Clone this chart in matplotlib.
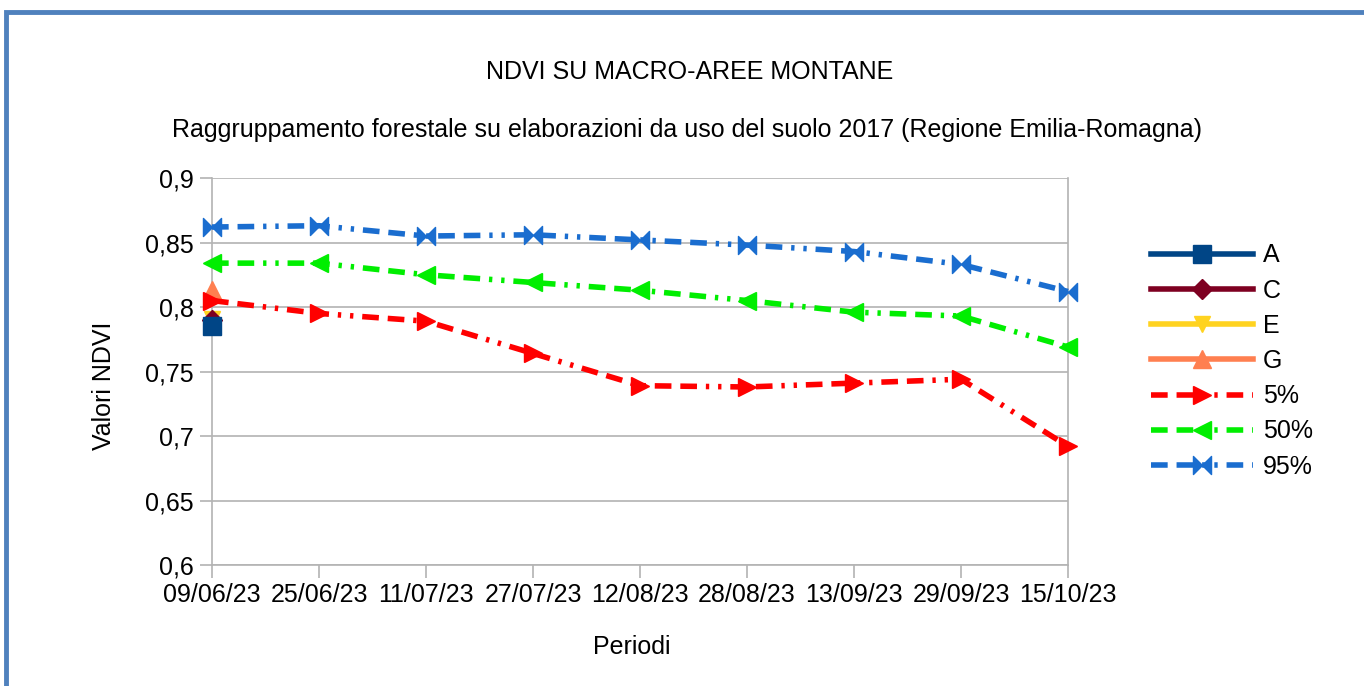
import numpy as np
import matplotlib
matplotlib.use("Agg")
import matplotlib.pyplot as plt
from matplotlib.path import Path
from matplotlib.patches import Rectangle

plt.rcParams["font.family"] = ["Liberation Sans", "DejaVu Sans"]

periods = ["09/06/23", "25/06/23", "11/07/23", "27/07/23", "12/08/23",
           "28/08/23", "13/09/23", "29/09/23", "15/10/23"]

# only the first date has values for the macro-areas
area_a = [0.785]
area_c = [0.790]
area_e = [0.791]
area_g = [0.813]

p5 = [0.805, 0.795, 0.789, 0.764, 0.739, 0.738, 0.741, 0.744, 0.692]
p50 = [0.834, 0.834, 0.825, 0.819, 0.813, 0.805, 0.796, 0.793, 0.769]
p95 = [0.862, 0.863, 0.855, 0.856, 0.852, 0.848, 0.843, 0.833, 0.812]

y_ticks = [0.6, 0.65, 0.7, 0.75, 0.8, 0.85, 0.9]
y_labels = ["0,6", "0,65", "0,7", "0,75", "0,8", "0,85", "0,9"]

# bow-tie marker for the 95% series
bowtie = Path([(-1, -1), (-1, 1), (0, 0), (1, 1), (1, -1), (0, 0), (-1, -1)],
              [Path.MOVETO, Path.LINETO, Path.LINETO, Path.LINETO,
               Path.LINETO, Path.LINETO, Path.CLOSEPOLY])

dash_dot_dot = (0, (3, 1.6, 3, 1.6, 0.6, 1.6, 0.6, 1.6))

fig = plt.figure(figsize=(13.64, 6.86), dpi=100)
ax = fig.add_axes([212 / 1364, 1 - 565 / 686, (1068 - 212) / 1364, (565 - 178) / 686])

x = np.arange(len(periods))
lw = 4.0
fs = 18
kw = dict(lw=lw, clip_on=False)
ax.plot(x[:1], area_e, color="#ffd320", marker="v", ms=12, label="E", zorder=3, **kw)
ax.plot(x[:1], area_c, color="#7e0021", marker="D", ms=10, label="C", zorder=4, **kw)
ax.plot(x[:1], area_a, color="#004586", marker="s", ms=13, label="A", zorder=5, **kw)
ax.plot(x[:1], area_g, color="#ff7f50", marker="^", ms=13, label="G", zorder=4, **kw)
ax.plot(x, p5, color="#ff0000", ls=dash_dot_dot, marker=">", ms=13, label="5%", zorder=6, **kw)
ax.plot(x, p50, color="#00ee00", ls=dash_dot_dot, marker="<", ms=13, label="50%", zorder=6, **kw)
ax.plot(x, p95, color="#1a6dcf", ls=dash_dot_dot, marker=bowtie, ms=13, label="95%", zorder=6, **kw)

ax.set_xlim(0, len(periods) - 1)
ax.set_ylim(0.6, 0.9)
ax.set_xticks(x)
ax.set_xticklabels(periods)
ax.set_yticks(y_ticks)
ax.set_yticklabels(y_labels)
ax.tick_params(labelsize=fs, colors="#b3b3b3", labelcolor="black", length=9, width=1.2, pad=4)
ax.grid(axis="y", color="#b3b3b3", lw=1.2)
ax.set_axisbelow(True)
ax.spines["top"].set_visible(False)
for side in ["left", "bottom", "right"]:
    ax.spines[side].set_color("#b3b3b3")
    ax.spines[side].set_linewidth(1.2)

fig.text(690 / 1364, 1 - 72 / 686, "NDVI SU MACRO-AREE MONTANE", ha="center", va="center", fontsize=fs)
fig.text(687 / 1364, 1 - 130 / 686,
         "Raggruppamento forestale su elaborazioni da uso del suolo 2017 (Regione Emilia-Romagna)",
         ha="center", va="center", fontsize=fs)
fig.text(104 / 1364, 1 - 386 / 686, "Valori NDVI", rotation=90, ha="center", va="center", fontsize=fs)
fig.text(632 / 1364, 1 - 647 / 686, "Periodi", ha="center", va="center", fontsize=fs)

handles, labels = ax.get_legend_handles_labels()
order = ["A", "C", "E", "G", "5%", "50%", "95%"]
hmap = dict(zip(labels, handles))
leg = fig.legend([hmap[k] for k in order], order, loc="center left",
                 bbox_to_anchor=(1128 / 1364, 1 - 361 / 686), frameon=False,
                 fontsize=fs, handlelength=4.1, labelspacing=0.45, handletextpad=0.4)

# blue outer frame
fig.patches.append(Rectangle((5.5 / 1364, -0.05), 1.2, (1 - 11.5 / 686) + 0.05,
                             transform=fig.transFigure, fill=False,
                             edgecolor="#4f81bd", lw=3.5))

fig.savefig("out.png", dpi=100)
